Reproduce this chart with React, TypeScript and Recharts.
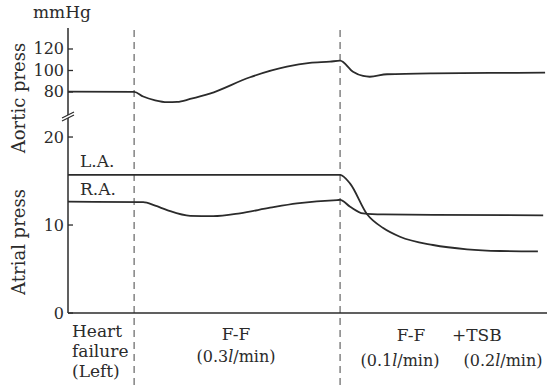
import { LineChart, Line, XAxis, YAxis, ReferenceLine } from "recharts";

const W = 549;
const H = 385;
const ink = "#2b2b2b";
const font = "'DejaVu Serif', serif";

// shared plot frame for both overlaid charts
const margin = { top: 28, right: 2, bottom: 0, left: 8 };
const axisWidth = 60;

// time runs 0..100 (arbitrary units) across the record
const timeDomain = [0, 100];
const phaseMarks = [13.8, 56.8];

// aortic pressure, mmHg
const aorticTime = [0, 13.8, 15.7, 18.2, 20.7, 22.8, 25.5, 29.6, 38, 45.7, 50.5, 54.7, 56.8, 59.5, 61.6, 63, 66.6, 76.2, 88.1, 99.6];
const aorticPress = [80.3, 80.2, 75.8, 72.3, 70.6, 70.8, 73.5, 78.5, 93.7, 103.5, 107, 108.2, 109.1, 98.9, 94.9, 94.2, 96.5, 97.4, 97.7, 98];

// left atrial pressure, mmHg
const laTime = [0, 56.8, 58.9, 62.4, 65.8, 69.3, 76.2, 83.3, 90.2, 98.1];
const laPress = [15.7, 15.7, 14.7, 11.25, 9.66, 8.67, 7.73, 7.24, 7.05, 7.0];

// right atrial pressure, mmHg
const raTime = [0, 15.7, 18.2, 20.7, 25.5, 30.3, 35.9, 42.2, 47.8, 56.2, 56.8, 58.9, 61.6, 65.8, 76.2, 99.2];
const raPress = [12.65, 12.6, 12.2, 11.7, 11.05, 11.0, 11.33, 11.97, 12.47, 12.84, 12.85, 12.08, 11.33, 11.2, 11.15, 11.1];

const aorticTicks = [80, 100, 120];
const atrialTicks = [0, 10, 20];
const atrialTop = 32.39;
const atrialDomain = [-8.18, atrialTop];
const aorticDomain = [-192.56, 139.53];

const toPoints = (ts: number[], vs: number[]) => ts.map((t, i) => ({ t, v: vs[i] }));
const aorticData = toPoints(aorticTime, aorticPress);
const laData = toPoints(laTime, laPress);
const raData = toPoints(raTime, raPress);

function InTick(props: any) {
  const { x, y, payload } = props;
  return (
    <g>
      <text x={x} y={y} dy={5.5} textAnchor="end" fill={ink} fontSize={16} fontFamily={font}>
        {payload.value}
      </text>
      <line x1={x + 4} x2={x + 9} y1={y} y2={y} stroke={ink} strokeWidth={1.3} />
    </g>
  );
}

const layer: React.CSSProperties = { position: "absolute", left: 0, top: 0 };

export default function App() {
  return (
    <div style={{ position: "absolute", left: 0, top: 0, width: W, height: H, background: "#fff" }}>
      <div style={layer}>
        <LineChart width={W} height={H} margin={margin}>
          <XAxis type="number" dataKey="t" domain={timeDomain} hide allowDataOverflow />
          <YAxis
            type="number"
            width={axisWidth}
            domain={atrialDomain}
            ticks={atrialTicks}
            interval={0}
            allowDataOverflow
            axisLine={false}
            tickLine={false}
            tickSize={0}
            tickMargin={4}
            tick={<InTick />}
          />
          {phaseMarks.map((m) => (
            <ReferenceLine key={m} x={m} stroke="#444" strokeWidth={1} strokeDasharray="7 5" ifOverflow="visible" />
          ))}
          <ReferenceLine y={0} stroke={ink} strokeWidth={1.5} />
          <ReferenceLine
            segment={[{ x: 0, y: 0 }, { x: 0, y: atrialTop }]}
            stroke={ink}
            strokeWidth={1.5}
            ifOverflow="visible"
          />
          <Line data={laData} dataKey="v" type="monotone" stroke={ink} strokeWidth={1.8} dot={false} isAnimationActive={false} />
          <Line data={raData} dataKey="v" type="monotone" stroke={ink} strokeWidth={1.8} dot={false} isAnimationActive={false} />
        </LineChart>
      </div>
      <div style={layer}>
        <LineChart width={W} height={H} margin={margin}>
          <XAxis type="number" dataKey="t" domain={timeDomain} hide allowDataOverflow />
          <YAxis
            type="number"
            width={axisWidth}
            domain={aorticDomain}
            ticks={aorticTicks}
            interval={0}
            allowDataOverflow
            axisLine={false}
            tickLine={false}
            tickSize={0}
            tickMargin={4}
            tick={<InTick />}
          />
          <Line data={aorticData} dataKey="v" type="monotone" stroke={ink} strokeWidth={1.8} dot={false} isAnimationActive={false} />
        </LineChart>
      </div>
      <svg width={W} height={H} style={{ ...layer, pointerEvents: "none" }} fontFamily={font} fill={ink}>
        {/* axis break */}
        <polygon points="62,118 74,112 74,115 62,121" fill="#fff" />
        <line x1={62} y1={118} x2={74} y2={112} stroke={ink} strokeWidth={1.2} />
        <line x1={62} y1={121} x2={74} y2={115} stroke={ink} strokeWidth={1.2} />

        <text x={33} y={18} fontSize={17}>mmHg</text>
        <text x={18} y={98} fontSize={18} textAnchor="middle" dominantBaseline="central" transform="rotate(-90 18 98)">
          Aortic press
        </text>
        <text x={18} y={242} fontSize={18} textAnchor="middle" dominantBaseline="central" transform="rotate(-90 18 242)">
          Atrial press
        </text>
        <text x={80} y={167} fontSize={17}>L.A.</text>
        <text x={80} y={195} fontSize={17}>R.A.</text>

        <text x={72} y={337} fontSize={17}>Heart</text>
        <text x={72} y={357} fontSize={17}>failure</text>
        <text x={72} y={377} fontSize={17}>(Left)</text>

        <text x={236} y={340} fontSize={17} textAnchor="middle">F-F</text>
        <text x={236} y={362} fontSize={16} textAnchor="middle">
          (0.3<tspan fontStyle="italic">l</tspan>/min)
        </text>

        <text x={411} y={341} fontSize={17} textAnchor="middle">F-F</text>
        <text x={400} y={366} fontSize={16} textAnchor="middle">
          (0.1<tspan fontStyle="italic">l</tspan>/min)
        </text>
        <text x={452} y={341} fontSize={17}>+TSB</text>
        <text x={503} y={366} fontSize={16} textAnchor="middle">
          (0.2<tspan fontStyle="italic">l</tspan>/min)
        </text>
      </svg>
    </div>
  );
}
